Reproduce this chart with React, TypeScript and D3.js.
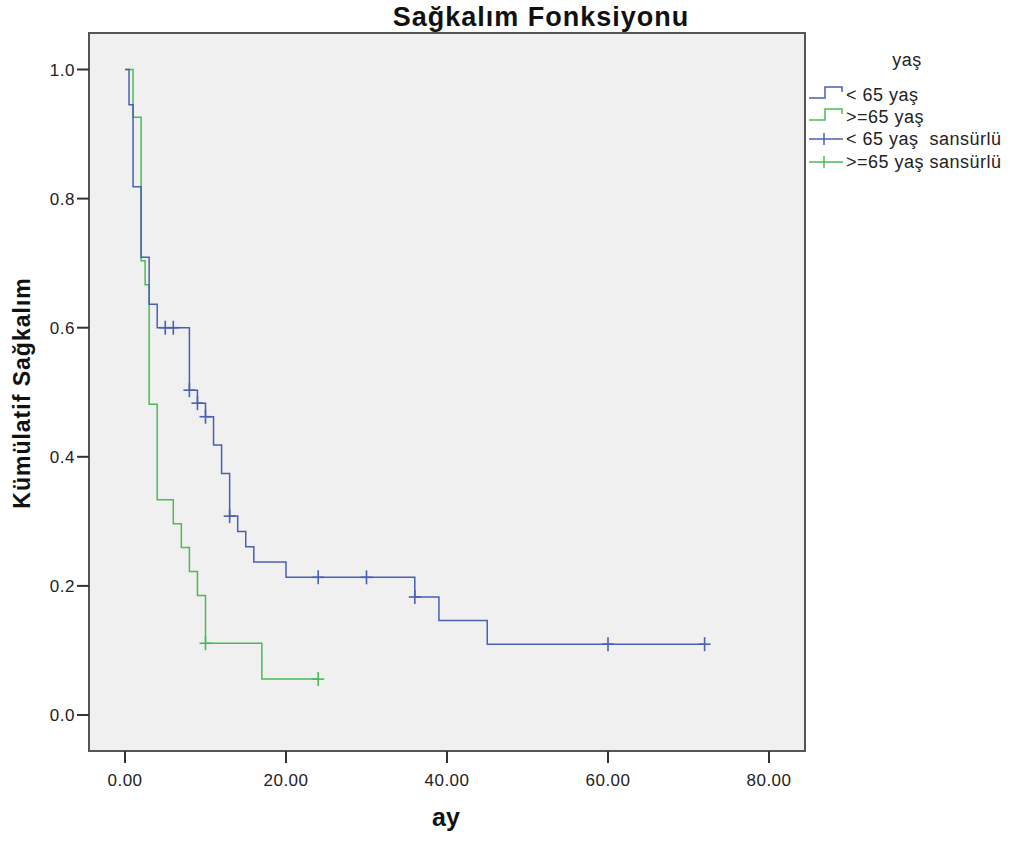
import React from "react";
import * as d3 from "d3";

// Kaplan-Meier steps
const youngTimes = [0, 0.5, 1, 2, 3, 4, 8, 9, 10, 11, 12, 13, 14, 15, 16, 20, 36, 39, 45, 72];
const youngSurv = [1.0, 0.9455, 0.8182, 0.7091, 0.6364, 0.6, 0.5032, 0.4831, 0.4621, 0.4181, 0.3741, 0.3081, 0.2844, 0.2607, 0.2370, 0.2133, 0.1828, 0.1463, 0.1097, 0.1097];
const youngCensored = [5, 6, 8, 9, 10, 13, 24, 30, 36, 60, 72];

const oldTimes = [0, 1, 2, 2.5, 3, 4, 6, 7, 8, 9, 10, 17, 24];
const oldSurv = [1.0, 0.9259, 0.7037, 0.6667, 0.4815, 0.3333, 0.2963, 0.2593, 0.2222, 0.1852, 0.1111, 0.0556, 0.0556];
const oldCensored = [10, 24];

const xTicks = [0, 20, 40, 60, 80];
const yTicks = [0, 0.2, 0.4, 0.6, 0.8, 1.0];

const legendLabels = ["< 65 yaş", ">=65 yaş", "< 65 yaş  sansürlü", ">=65 yaş sansürlü"];
const BLUE = "#4a5eb4";
const GREEN = "#48bd57";

function survAt(times: number[], surv: number[], t: number) {
  let v = surv[0];
  for (let i = 0; i < times.length; i++) if (times[i] <= t) v = surv[i];
  return v;
}

export default function App() {
  const W = 1014, H = 841;
  const fl = 89, fr = 805, ft = 33, fb = 751;
  const x = d3.scaleLinear().domain([0, 80]).range([125, 769]);
  const y = d3.scaleLinear().domain([0, 1]).range([715, 69.5]);
  const line = d3.line<[number, number]>().x(d => x(d[0])).y(d => y(d[1])).curve(d3.curveStepAfter);
  const youngPts = youngTimes.map((t, i) => [t, youngSurv[i]] as [number, number]);
  const oldPts = oldTimes.map((t, i) => [t, oldSurv[i]] as [number, number]);
  const font = "'Liberation Sans', Arial, sans-serif";
  const cross = (t: number, v: number, c: string, k: string) => (
    <g key={k} stroke={c} strokeWidth={1.6}>
      <line x1={x(t) - 6} x2={x(t) + 6} y1={y(v)} y2={y(v)} />
      <line x1={x(t)} x2={x(t)} y1={y(v) - 7} y2={y(v) + 7} />
    </g>
  );
  const legY = [95, 117, 139, 162];
  return (
    <svg width={W} height={H} style={{ position: "absolute", left: 0, top: 0 }}>
      <rect width={W} height={H} fill="#fff" />
      <text x={541} y={26} textAnchor="middle" fontFamily={font} fontWeight="bold" fontSize={27} letterSpacing={1} fill="#111">Sağkalım Fonksiyonu</text>
      <rect x={fl} y={ft} width={fr - fl} height={fb - ft} fill="#f0f0f0" stroke="#555" strokeWidth={2} />
      {yTicks.map(t => (
        <g key={"y" + t}>
          <line x1={77} x2={fl} y1={y(t)} y2={y(t)} stroke="#333" strokeWidth={2} />
          <text x={75} y={y(t) + 6} textAnchor="end" fontFamily={font} fontSize={17} letterSpacing={0.5} fill="#222">{t.toFixed(1)}</text>
        </g>
      ))}
      {xTicks.map(t => (
        <g key={"x" + t}>
          <line x1={x(t)} x2={x(t)} y1={fb} y2={763} stroke="#333" strokeWidth={2} />
          <text x={x(t)} y={786} textAnchor="middle" fontFamily={font} fontSize={17} letterSpacing={0.5} fill="#222">{t.toFixed(2)}</text>
        </g>
      ))}
      <text x={446} y={826} textAnchor="middle" fontFamily={font} fontWeight="bold" fontSize={25} fill="#111">ay</text>
      <text transform={`translate(30,393) rotate(-90)`} textAnchor="middle" fontFamily={font} fontWeight="bold" fontSize={23} letterSpacing={1} fill="#111">Kümülatif Sağkalım</text>
      <path d={line(oldPts) || ""} fill="none" stroke={GREEN} strokeWidth={1.5} />
      <path d={line(youngPts) || ""} fill="none" stroke={BLUE} strokeWidth={1.5} />
      {oldCensored.map((t, i) => cross(t, survAt(oldTimes, oldSurv, t), GREEN, "oc" + i))}
      {youngCensored.map((t, i) => cross(t, survAt(youngTimes, youngSurv, t), BLUE, "yc" + i))}
      <text x={907} y={66} textAnchor="middle" fontFamily={font} fontSize={18} letterSpacing={0.5} fill="#222">yaş</text>
      {legendLabels.map((lab, i) => {
        const c = i % 2 === 0 ? BLUE : GREEN;
        const yy = legY[i];
        return (
          <g key={lab}>
            {i < 2 ? (
              <path d={`M809,${yy + 3}H825V${yy - 8}H842V${yy - 3}`} fill="none" stroke={c} strokeWidth={1.5} />
            ) : (
              <g stroke={c} strokeWidth={1.5}>
                <line x1={809} x2={843} y1={yy} y2={yy} />
                <line x1={824} x2={824} y1={yy - 6} y2={yy + 6} />
              </g>
            )}
            <text x={846} y={yy + 6} fontFamily={font} fontSize={18} letterSpacing={0.5} fill="#222" style={{ whiteSpace: "pre" }}>{lab}</text>
          </g>
        );
      })}
    </svg>
  );
}
